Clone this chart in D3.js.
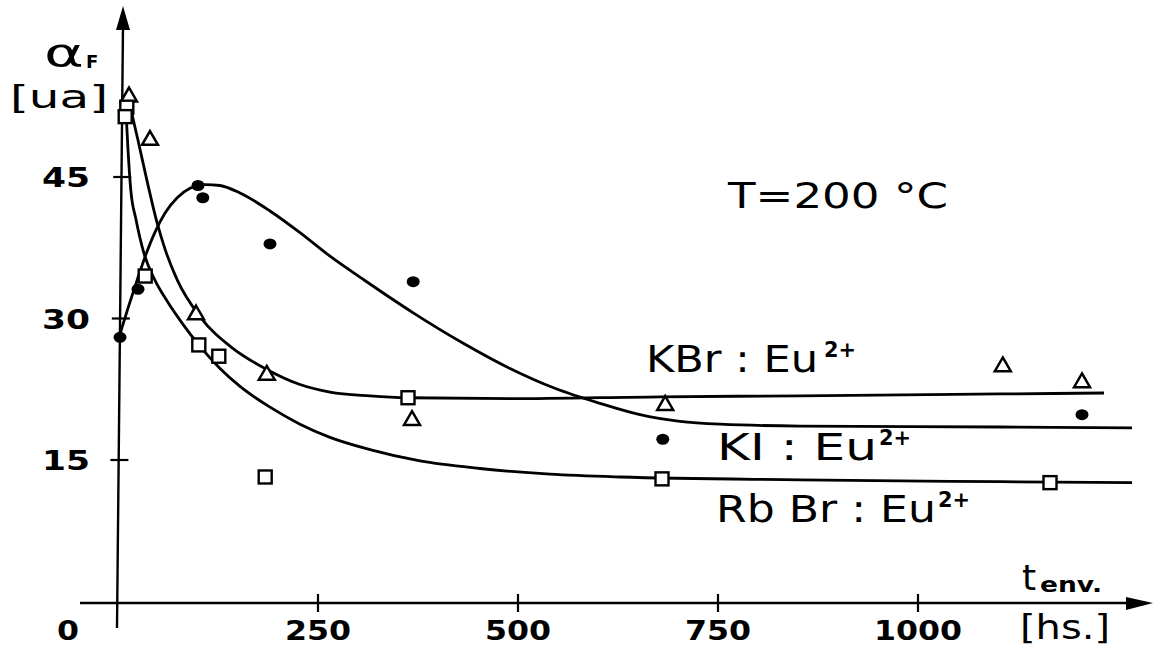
<!DOCTYPE html>
<html><head><meta charset="utf-8">
<script src="https://cdn.jsdelivr.net/npm/d3@7"></script>
<style>body{margin:0;background:#fff}</style>
</head><body>
<svg id="c" width="1156" height="649"></svg>
<script>
// ---- data ----
const xTickValues = [250, 500, 750, 1000];
const yTickValues = [15, 30, 45];
// KBr:Eu2+ triangles
const kbrPoints = [[13.75,53.5],[40,48.9],[97.5,30.4],[186,24.0],[367.5,19.2],[684,20.8],[1106,24.9],[1205,23.2]];
// RbBr:Eu2+ squares
const rbbrPoints = [[11,52.4],[9,51.4],[34,34.5],[101,27.2],[126,26.0],[184,13.2],[362.5,21.6],[680,13.0],[1165,12.6]];
// KI:Eu2+ dots
const kiPoints = [[2.5,28.0],[25,33.1],[100,44.1],[106,42.8],[190,37.9],[369,33.9],[681,17.2],[1205,19.8]];
// fitted curves as drawn in the figure
const kbrCurve = [[12.5,53.5],[25,48.9],[36,44.7],[49,40.1],[59,37.3],[74,34.1],[102.5,30.2],[144,26.8],[186,24.6],[227.5,23.0],[265,22.2],[315,21.8],[362.5,21.6],[490,21.5],[677.5,21.7],[852.5,21.8],[1102.5,22.0],[1232.5,22.1]];
const rbbrCurve = [[10,51.9],[12.5,47.9],[16,43.6],[22.5,40.5],[32.5,36.9],[46,34.1],[61,31.9],[81,29.4],[101,27.2],[127.5,24.7],[152.5,22.8],[190,20.6],[227.5,18.8],[265,17.4],[315,16.1],[377.5,14.9],[452.5,14.1],[540,13.5],[627.5,13.2],[852.5,12.9],[1102.5,12.7],[1267.5,12.6]];
const kiCurve = [[1.25,28.0],[12.5,31.1],[24,34.1],[35,36.8],[46,39.1],[59,41.2],[74,42.8],[90,43.8],[109,44.2],[127.5,44.1],[152.5,43.3],[190,41.4],[227.5,39.1],[265,36.6],[309,34.0],[369,30.6],[431,27.4],[490,24.7],[546,22.6],[602.5,21.0],[652.5,19.8],[702.5,19.1],[752.5,18.8],[852.5,18.6],[1102.5,18.5],[1267.5,18.4]];

const svg = d3.select('#c');
const x = d3.scaleLinear().domain([0,1000]).range([118,918]);
const y = d3.scaleLinear().domain([0,45]).range([601.5,177]);
const FONT = "'DejaVu Sans', sans-serif";

// axes
const ax = svg.append('g').attr('stroke','#000').attr('fill','none');
const y0 = y(0)+1.5;
ax.append('line').attr('x1',80).attr('y1',y0).attr('x2',1130).attr('y2',y0).attr('stroke-width',2.4);
svg.append('path').attr('d',`M1126,${y0-6} L1153,${y0} L1126,${y0+7} Z`).attr('fill','#000');
ax.append('line').attr('x1',x(0)-1).attr('y1',628).attr('x2',x(0)+5).attr('y2',25).attr('stroke-width',2.4);
svg.append('path').attr('d',`M${x(0)-2},30 L${x(0)+5},6 L${x(0)+12},30 Z`).attr('fill','#000');

function tickLabel(px, py, txt, w){
  svg.append('text').attr('x',px - w/2).attr('y',py)
    .attr('font-family',FONT).attr('font-size',27).attr('font-weight','bold')
    .attr('textLength',w).attr('lengthAdjust','spacingAndGlyphs').text(txt);
}
xTickValues.forEach(t=>{
  ax.append('line').attr('x1',x(t)).attr('x2',x(t)).attr('y1',y0-9).attr('y2',y0+9).attr('stroke-width',2.2);
  tickLabel(x(t), 640, String(t), String(t).length*22);
});
tickLabel(x(0)-50, 640, '0', 22);
yTickValues.forEach(t=>{
  const xa = x(0) + (601.5-y(t))*6/603;
  ax.append('line').attr('x1',xa-9).attr('x2',xa+9).attr('y1',y(t)).attr('y2',y(t)).attr('stroke-width',2.2);
  tickLabel(66, y(t)+10, String(t), 48);
});

// axis titles
svg.append('text').attr('x',44).attr('y',66).attr('font-family',FONT).attr('font-size',38)
  .attr('textLength',40).attr('lengthAdjust','spacingAndGlyphs').text('α');
svg.append('text').attr('x',86).attr('y',68).attr('font-family',FONT).attr('font-size',18).attr('font-weight','bold').text('F');
svg.append('text').attr('x',10).attr('y',108).attr('font-family',FONT).attr('font-size',32)
  .attr('textLength',98).attr('lengthAdjust','spacingAndGlyphs').text('[ua]');
svg.append('text').attr('x',1022).attr('y',590).attr('font-family',FONT).attr('font-size',36).text('t');
svg.append('text').attr('x',1040).attr('y',592).attr('font-family',FONT).attr('font-size',22).attr('font-weight','bold')
  .attr('textLength',62).attr('lengthAdjust','spacingAndGlyphs').text('env.');
svg.append('text').attr('x',1020).attr('y',639).attr('font-family',FONT).attr('font-size',33)
  .attr('textLength',90).attr('lengthAdjust','spacingAndGlyphs').text('[hs.]');

// annotation
svg.append('text').attr('x',728).attr('y',208).attr('font-family',FONT).attr('font-size',36)
  .attr('textLength',220).attr('lengthAdjust','spacingAndGlyphs').text('T=200 °C');

function label(x0, base, main, w, supX){
  svg.append('text').attr('x',x0).attr('y',base).attr('font-family',FONT).attr('font-size',37)
    .attr('textLength',w).attr('lengthAdjust','spacingAndGlyphs').text(main);
  svg.append('text').attr('x',supX).attr('y',base-15).attr('font-family',FONT).attr('font-size',22).attr('font-weight','bold')
    .attr('textLength',32).attr('lengthAdjust','spacingAndGlyphs').text('2+');
}
label(646, 372, 'KBr : Eu', 172, 824);
label(717, 460, 'KI : Eu', 160, 879);
label(716, 522, 'Rb Br : Eu', 220, 938);

// curves
const line = d3.line().x(d=>x(d[0])).y(d=>y(d[1])).curve(d3.curveMonotoneX);
const g = svg.append('g').attr('fill','none').attr('stroke','#000').attr('stroke-width',2.8);
[kbrCurve, rbbrCurve, kiCurve].forEach(c=>g.append('path').attr('d',line(c)));

// markers
svg.append('g').selectAll('path').data(kbrPoints).join('path')
  .attr('d', d3.symbol().type(d3.symbolTriangle).size(110))
  .attr('transform', d=>`translate(${x(d[0])},${y(d[1])})`)
  .attr('fill','#fff').attr('stroke','#000').attr('stroke-width',2.5);
svg.append('g').selectAll('rect').data(rbbrPoints).join('rect')
  .attr('x', d=>x(d[0])-6.5).attr('y', d=>y(d[1])-6.5).attr('width',13).attr('height',13)
  .attr('fill','#fff').attr('stroke','#000').attr('stroke-width',2.4);
svg.append('g').selectAll('ellipse').data(kiPoints).join('ellipse')
  .attr('cx', d=>x(d[0])).attr('cy', d=>y(d[1])).attr('rx',6.5).attr('ry',5.5).attr('fill','#000');
</script>
</body></html>
